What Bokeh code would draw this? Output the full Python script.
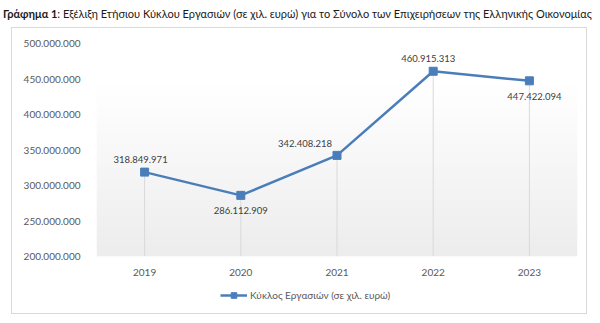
import numpy as np
from bokeh.plotting import figure
from bokeh.layouts import column
from bokeh.models import (FactorRange, Range1d, FixedTicker, Legend, LegendItem, Div)
from bokeh.core.properties import value
from bokeh.embed import file_html
from bokeh.resources import INLINE

# ---- data ----
years = ["2019", "2020", "2021", "2022", "2023"]
turnover = [318849971, 286112909, 342408218, 460915313, 447422094]
y_ticks = [200000000, 250000000, 300000000, 350000000, 400000000, 450000000, 500000000]
title_bold = "Γράφημα 1"
title_rest = ": Εξέλιξη Ετήσιου Κύκλου Εργασιών (σε χιλ. ευρώ) για το Σύνολο των Επιχειρήσεων της Ελληνικής Οικονομίας"
series_name = "Κύκλος Εργασιών (σε χιλ. ευρώ)"

def fmt(v):
    return f"{v:,}".replace(",", ".")

value_labels = [fmt(v) for v in turnover]
# label placement offsets (screen px), styling only
label_dx = [-4, 0, -32, -5, 5]
label_dy = [-13, 15, -12, -13, 16]

FONT = "Lato"
BLUE = "#4a7ebb"
W = 574
H1 = 254
H2 = 31
ML, MR, MT, MB = 84, 9, 15, 26

p = figure(width=W, height=H1, x_range=FactorRange(*years),
           y_range=Range1d(y_ticks[0], y_ticks[-1]),
           output_backend="svg", toolbar_location=None,
           min_border_left=ML, min_border_right=MR,
           min_border_top=MT, min_border_bottom=MB, margin=0)
p.outline_line_color = None
p.background_fill_color = None
p.border_fill_color = "white"
p.xgrid.visible = False
p.ygrid.visible = False

# gradient plot-area background
n = 64
t = np.linspace(0, 1, n)  # 0 bottom -> 1 top
g = (237 + (255 - 237) * np.clip(t * 1.25, 0, 1)).astype(np.uint32)
col = (255 << 24) | (g << 16) | (g << 8) | g
img = np.repeat(col.reshape(n, 1), 4, axis=1).astype(np.uint32)
p.image_rgba(image=[img], x=0, y=y_ticks[0], dw=len(years),
             dh=y_ticks[-1] - y_ticks[0])

# drop lines
p.segment(x0=years, y0=turnover, x1=years, y1=[y_ticks[0]] * len(years),
          line_color="#d9d9d9", line_width=1)

lr = p.line(years, turnover, line_color=BLUE, line_width=2.5)
sr = p.scatter(years, turnover, marker="square", size=8, fill_color=BLUE,
               line_color=BLUE)

p.text(x=years, y=turnover, text=value_labels, x_offset=label_dx, y_offset=label_dy,
       text_font=value(FONT), text_font_size="9.5px", text_color="#404040",
       text_align="center", text_baseline="middle")

# axes
for ax in (p.xaxis[0], p.yaxis[0]):
    ax.axis_line_color = None
    ax.major_tick_line_color = None
    ax.minor_tick_line_color = None
    ax.major_label_text_font = FONT
    ax.major_label_text_font_size = "10px"
    ax.major_label_text_color = "#595959"
p.yaxis[0].ticker = FixedTicker(ticks=y_ticks)
p.yaxis[0].major_label_overrides = {v: fmt(v) for v in y_ticks}
p.yaxis[0].major_label_standoff = 10
p.xaxis[0].major_label_standoff = 6

# legend strip (separate figure; series drawn off-range so only the key shows)
p2 = figure(width=W, height=H2, x_range=FactorRange(*years), y_range=Range1d(0, 1),
            output_backend="svg", toolbar_location=None,
            x_axis_location=None, y_axis_location=None,
            min_border=0, margin=0)
p2.outline_line_color = None
p2.xgrid.visible = False
p2.ygrid.visible = False
lr2 = p2.line(years, turnover, line_color=BLUE, line_width=2.5)
sr2 = p2.scatter(years, turnover, marker="square", size=8, fill_color=BLUE,
                 line_color=BLUE)
leg = Legend(items=[LegendItem(label=series_name, renderers=[lr2, sr2])],
             location=(124, 11), orientation="horizontal",
             glyph_width=27, glyph_height=14, padding=0, margin=0,
             label_standoff=3, background_fill_alpha=0, border_line_color=None,
             label_text_font=FONT, label_text_font_size="10px",
             label_text_color="#595959")
p2.add_layout(leg)

chart = column(p, p2, spacing=0, margin=(0, 0, 0, 12),
               styles={"outline": "1px solid #d9d9d9"})

title = Div(text=f"<b>{title_bold}</b>{title_rest}", width=600, height=28,
            margin=(0, 0, 0, 0),
            styles={"font-family": FONT, "font-size": "11px", "color": "#1a1a1a",
                    "padding-left": "3px", "padding-top": "6px",
                    "white-space": "nowrap"})

layout = column(title, chart, spacing=0, margin=0)
open("out.html", "w").write(file_html(layout, INLINE))
